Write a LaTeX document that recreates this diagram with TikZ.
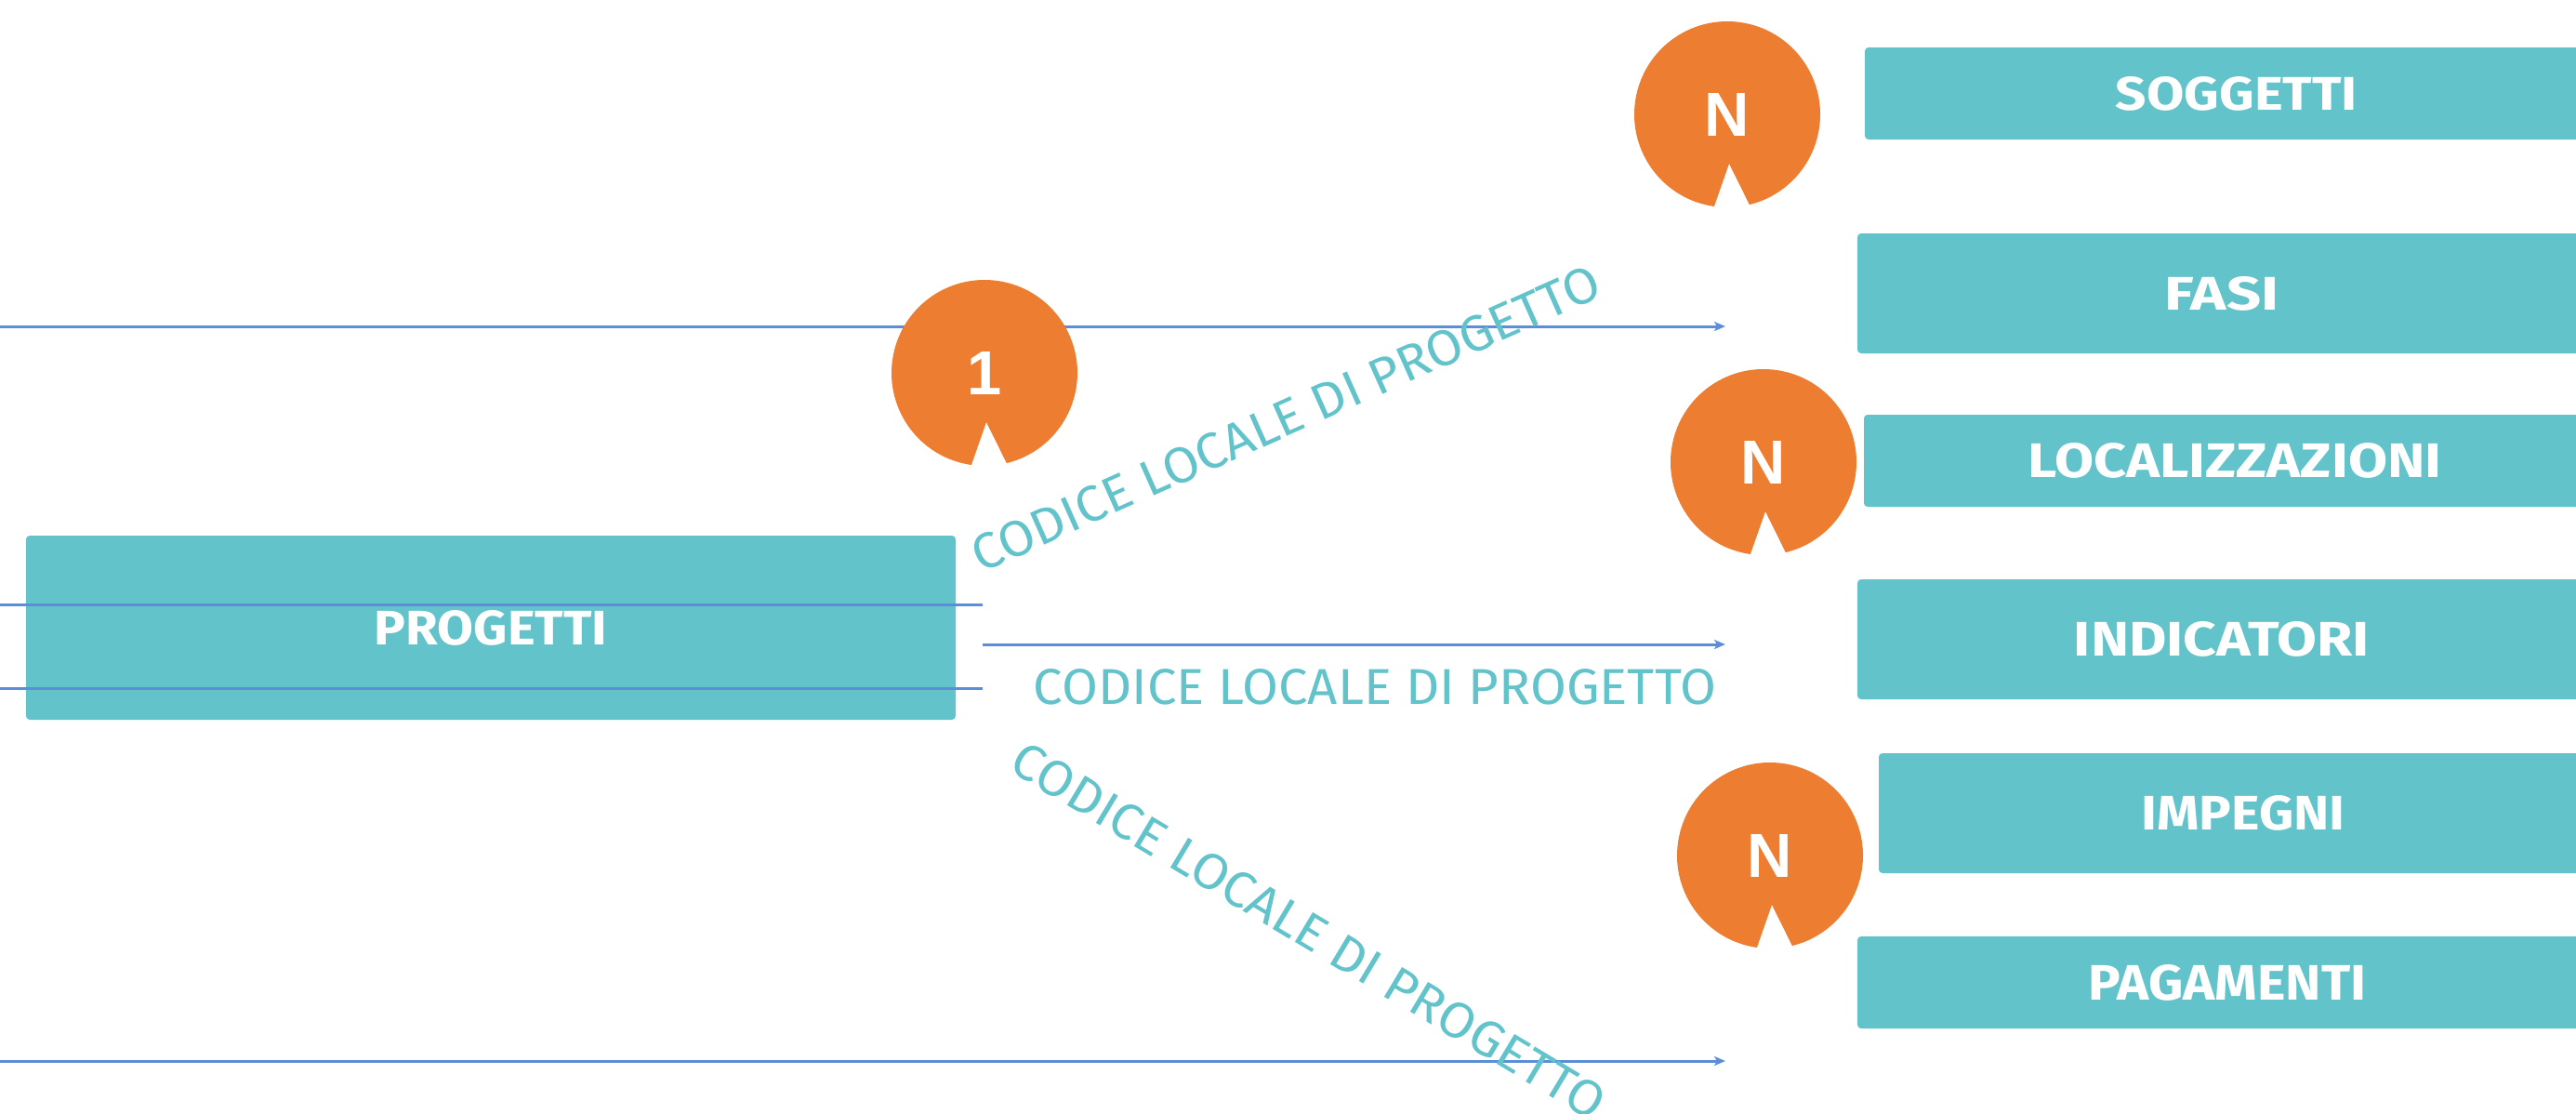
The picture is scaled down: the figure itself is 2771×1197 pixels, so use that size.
\documentclass[tikz,border=0pt]{standalone}
\usepackage{fontspec}
\usepackage{graphicx}
\usetikzlibrary{arrows.meta}
\newfontfamily\labfont{Fira Sans}
\newfontfamily\numfont{Liberation Sans}
\definecolor{teal1}{HTML}{63C3CB}
\definecolor{orange1}{HTML}{ED7D31}
\definecolor{line1}{HTML}{5B8ED6}
\newcommand\fitt[3]{\resizebox{#1pt}{#2pt}{#3}}
\newcommand\badgeshape[4]{%
  \fill[orange1] (#2,#3) ++(98.1:100) arc[start angle=98.1,end angle=436.2,radius=100] -- (#2+2,#3+53) -- cycle;
  \node[badge] (#1) at (#2,#3) {\resizebox{!}{46pt}{\numfont\bfseries #4}};}
\begin{document}
\begin{tikzpicture}[x=1pt,y=-1pt,
  tbox/.style={fill=teal1, rounded corners=4pt, inner sep=0pt, text=white, font=\labfont\bfseries},
  conn/.style={draw=line1, line width=3pt},
  arr/.style={-{Stealth[length=12pt,width=10pt,inset=3pt]}},
  lab/.style={text=teal1, font=\labfont, inner sep=0pt},
  badge/.style={text=white, inner sep=0pt}]
\useasboundingbox (0,0) rectangle (2771,1197);
\clip (0,0) rectangle (2771,1197);

% left box
\node[tbox, minimum width=1000pt, minimum height=198pt] (prog) at (528,675) {\fitt{250}{37}{PROGETTI}};

% connectors
\coordinate (a1) at (0,351);    \coordinate (b1) at (1856,351);
\coordinate (a2) at (1057,693); \coordinate (b2) at (1856,693);
\coordinate (a3) at (0,1141);   \coordinate (b3) at (1856,1141);
\coordinate (a4) at (0,650);    \coordinate (b4) at (1057,650);
\coordinate (a5) at (0,740);    \coordinate (b5) at (1057,740);
\draw[conn,arr] (a1) -- (b1);
\draw[conn,arr] (a2) -- (b2);
\draw[conn,arr] (a3) -- (b3);
\draw[conn] (a4) -- (b4);
\draw[conn] (a5) -- (b5);

% labels
\node[lab, rotate=24] (lab1) at (1383,450) {\fitt{734}{38}{CODICE LOCALE DI PROGETTO}};
\node[lab] (lab2) at (1479,739) {\fitt{734}{38}{CODICE LOCALE DI PROGETTO}};
\node[lab, rotate=-31] (lab3) at (1408,1001) {\fitt{734}{38}{CODICE LOCALE DI PROGETTO}};

% badges
\badgeshape{one}{1059}{401}{1}
\badgeshape{n1}{1858}{123}{N}
\badgeshape{n2}{1897}{497}{N}
\badgeshape{n3}{1904}{920}{N}

% right boxes
\node[tbox, minimum width=800pt, minimum height=99pt] (sog) at (2406,100.5) {\fitt{260}{36}{SOGGETTI}};
\node[tbox, minimum width=784pt, minimum height=129pt] (fas) at (2390,315.5) {\fitt{123}{36}{FASI}};
\node[tbox, minimum width=798pt, minimum height=99pt] (loc) at (2404,495.5) {\fitt{445}{37}{LOCALIZZAZIONI}};
\node[tbox, minimum width=784pt, minimum height=129pt] (ind) at (2390,687.5) {\fitt{318}{37}{INDICATORI}};
\node[tbox, minimum width=784pt, minimum height=129pt] (imp) at (2413,874.5) {\fitt{219}{37}{IMPEGNI}};
\node[tbox, minimum width=796pt, minimum height=99pt] (pag) at (2396,1056.5) {\fitt{299}{38}{PAGAMENTI}};
\end{tikzpicture}
\end{document}
